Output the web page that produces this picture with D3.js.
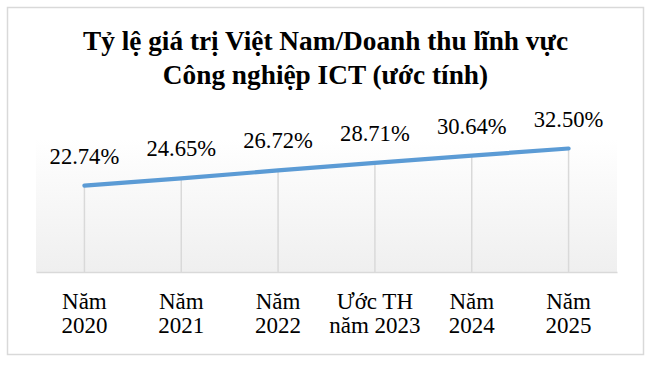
<!DOCTYPE html>
<html>
<head>
<meta charset="utf-8">
<script src="https://cdn.jsdelivr.net/npm/d3@7"></script>
<style>
  body { margin: 0; background: #fff; }
  svg text { font-family: "Liberation Serif", "Times New Roman", serif; fill: #000; }
</style>
</head>
<body>
<div id="chart"></div>
<script>
// chart data
var categories = [["Năm", "2020"], ["Năm", "2021"], ["Năm", "2022"], ["Ước TH", "năm 2023"], ["Năm", "2024"], ["Năm", "2025"]];
var values = [22.74, 24.65, 26.72, 28.71, 30.64, 32.50];
var valueLabels = ["22.74%", "24.65%", "26.72%", "28.71%", "30.64%", "32.50%"];
var titleLines = ["Tỷ lệ giá trị Việt Nam/Doanh thu lĩnh vực", "Công nghiệp ICT (ước tính)"];

var svgWidth = 649
var svgHeight = 365

// plot area
var margin = { top: 139, right: 32, bottom: 93, left: 36 }
var plotWidth = svgWidth - margin.left - margin.right;
var plotHeight = svgHeight - margin.top - margin.bottom;

var svg = d3.select("#chart")
    .append("svg")
    .attr("width", svgWidth)
    .attr("height", svgHeight)

// outer frame
svg.append("rect")
    .attr("x", 7.5).attr("y", 7.5)
    .attr("width", 636).attr("height", 347)
    .attr("fill", "#fff")
    .attr("stroke", "#d9d9d9")
    .attr("stroke-width", 1.5);

// background gradient
var grad = svg.append("defs").append("linearGradient")
    .attr("id", "bg").attr("x1", 0).attr("y1", 0).attr("x2", 0).attr("y2", 1);
grad.append("stop").attr("offset", "0%").attr("stop-color", "#ffffff");
grad.append("stop").attr("offset", "100%").attr("stop-color", "#efefef");

var chartGroup = svg.append("g")
    .attr("transform", `translate(${margin.left}, ${margin.top})`);

chartGroup.append("rect")
    .attr("width", plotWidth)
    .attr("height", plotHeight)
    .attr("fill", "url(#bg)");

// scales
var xScale = d3.scaleBand()
    .domain(d3.range(categories.length))
    .range([0, plotWidth]);
var xPos = i => xScale(i) + xScale.bandwidth() / 2;

var yScale = d3.scaleLinear()
    .domain([0, 35])
    .range([plotHeight, 0]);

// drop lines
chartGroup.selectAll(".drop")
    .data(values)
    .enter()
    .append("line")
    .attr("x1", (d, i) => xPos(i))
    .attr("x2", (d, i) => xPos(i))
    .attr("y1", d => yScale(d))
    .attr("y2", plotHeight)
    .attr("stroke", "#d9d9d9")
    .attr("stroke-width", 1.5);

// x axis
var xAxis = chartGroup.append("g")
    .attr("transform", "translate(0," + plotHeight + ")")
    .call(d3.axisBottom(xScale).tickSize(0).tickFormat(""));
xAxis.select(".domain").attr("stroke", "#d9d9d9").attr("stroke-width", 1.5);

// category labels (two lines)
chartGroup.selectAll(".cat")
    .data(categories)
    .enter()
    .append("text")
    .attr("text-anchor", "middle")
    .attr("font-size", 23)
    .selectAll("tspan")
    .data((d, i) => d.map(t => ({ t: t, i: i })))
    .enter()
    .append("tspan")
    .attr("x", d => xPos(d.i))
    .attr("y", (d, j) => plotHeight + 36.5 + j * 24.5)
    .text(d => d.t);

// line
var line = d3.line()
    .x((d, i) => xPos(i))
    .y(d => yScale(d));

chartGroup.append("path")
    .datum(values)
    .attr("d", line)
    .attr("fill", "none")
    .attr("stroke", "#5b9bd5")
    .attr("stroke-width", 4.2)
    .attr("stroke-linecap", "round")
    .attr("stroke-linejoin", "round");

// data labels
chartGroup.selectAll(".lbl")
    .data(values)
    .enter()
    .append("text")
    .attr("x", (d, i) => xPos(i))
    .attr("y", d => yScale(d) - 22)
    .attr("text-anchor", "middle")
    .attr("font-size", 22.6)
    .text((d, i) => valueLabels[i]);

// title
svg.append("text")
    .attr("text-anchor", "middle")
    .attr("font-size", 27.3)
    .attr("font-weight", "bold")
    .selectAll("tspan")
    .data(titleLines)
    .enter()
    .append("tspan")
    .attr("x", 325.5)
    .attr("y", (d, i) => 50 + i * 34)
    .text(d => d);
</script>
</body>
</html>
